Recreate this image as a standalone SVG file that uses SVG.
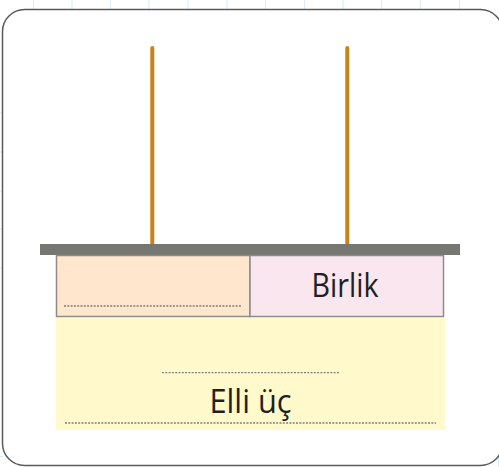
<svg xmlns="http://www.w3.org/2000/svg" width="499" height="467" viewBox="0 0 499 467">
<style>
.grid{stroke:#d6ecf8;stroke-width:1}
.stick{stroke:#c8821a;stroke-width:4;stroke-linecap:round}
.cell{stroke:#8c8c8c;stroke-width:1.5}
.dots{stroke:#808080;stroke-width:1.3;stroke-dasharray:2 1.3;fill:none}
.lbl{font-family:"Open Sans","Liberation Sans",sans-serif;fill:#231f20;text-anchor:middle}
</style>
<rect width="499" height="467" fill="#fff"/>
<g id="grid">
<path class="grid" d="M33.5 0V9M72 0V9M110.5 0V9M149 0V9M188 0V9M227 0V9M265.5 0V9M304.5 0V9M343 0V9M381.5 0V9M420.5 0V9M459.5 0V9M498.5 440V467M0 456.5H3M0 113H2M0 152H2M0 191H2M0 229H2M0 268H2"/>
</g>
<g id="frame">
<rect x="2.5" y="9.5" width="500" height="456" rx="22" fill="#fff" stroke="#5a5a5a" stroke-width="1.5"/>
</g>
<g id="abacus">
<line class="stick" x1="152.3" y1="48" x2="152.3" y2="244"/>
<line class="stick" x1="347.3" y1="48" x2="347.3" y2="244"/>
<rect x="40" y="244" width="420" height="11" fill="#767672"/>
</g>
<g id="cell-tens">
<rect class="cell" x="56.5" y="255.5" width="193.5" height="61" fill="#ffe6cc"/>
<line class="dots" x1="64" y1="306" x2="241" y2="306"/>
</g>
<g id="cell-ones">
<rect class="cell" x="250" y="255.5" width="193.5" height="61" fill="#f9e6ee"/>
<text class="lbl" x="345" y="296.5" font-size="33" textLength="67" lengthAdjust="spacingAndGlyphs">Birlik</text>
</g>
<g id="cell-number">
<rect x="56" y="318" width="389" height="112" fill="#fff9cc"/>
<line class="dots" x1="162" y1="372.7" x2="339" y2="372.7"/>
<text class="lbl" x="250.5" y="412.7" font-size="32" textLength="82" lengthAdjust="spacingAndGlyphs">Elli üç</text>
<line class="dots" x1="65" y1="423" x2="436" y2="423"/>
</g>
</svg>
